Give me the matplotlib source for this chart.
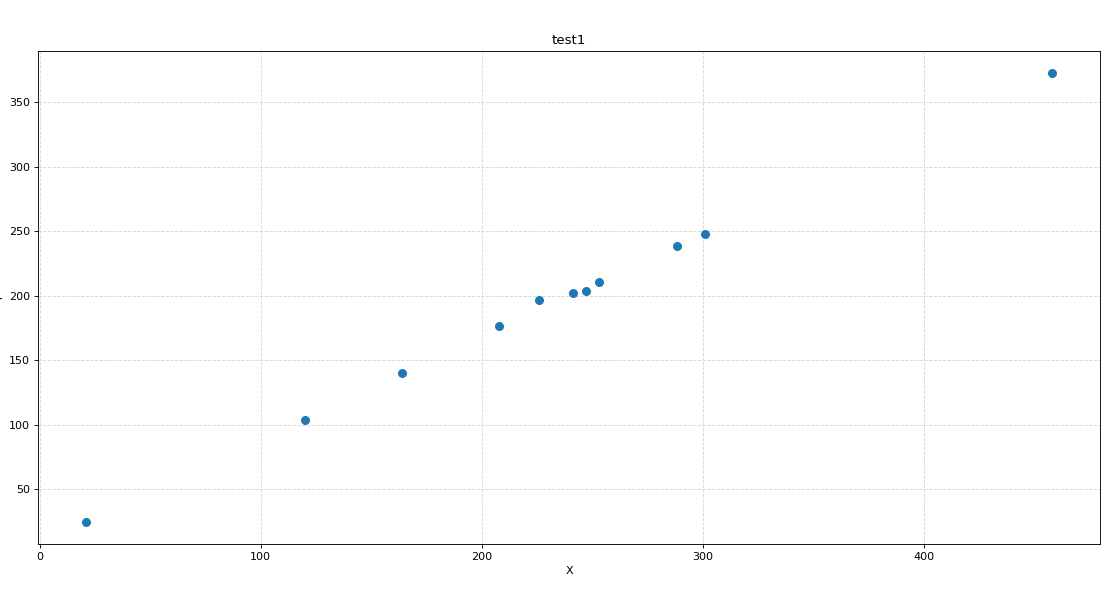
import matplotlib
matplotlib.use("Agg")
import matplotlib.pyplot as plt

x_values = [21, 120, 164, 208, 226, 241.5, 247, 253, 288.5, 301, 458]
y_values = [25, 104, 140, 176.5, 196.5, 202, 203.5, 210.5, 239, 248, 372.5]

fig = plt.figure(figsize=(14, 7.4375), dpi=80)
ax = fig.add_axes([38/1120, 1 - 544/595, (1100-38)/1120, (544-51)/595])
ax.scatter(x_values, y_values, color="#1f77b4", s=50, zorder=3)
ax.set_title("test1")
ax.set_xlabel("X")
ax.set_ylabel("Y")
ax.grid(True, linestyle="--", color="lightgray", alpha=0.9)
fig.savefig("out.png", dpi=80)
